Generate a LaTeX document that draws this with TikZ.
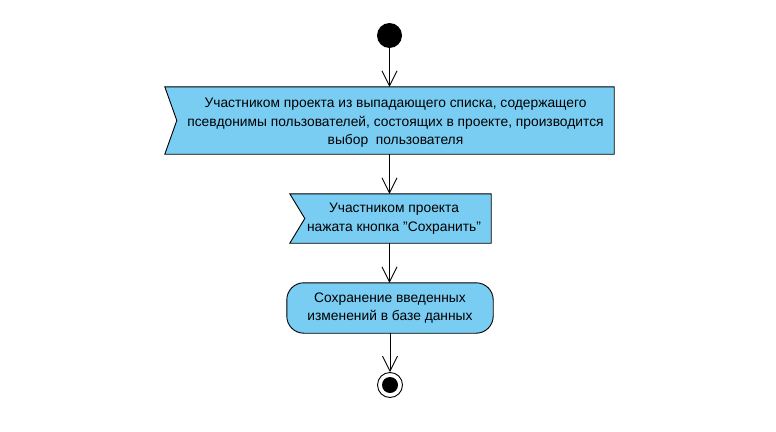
\documentclass[tikz,border=0pt]{standalone}
\usepackage{fontspec}
\setmainfont{Liberation Sans}
\usetikzlibrary{arrows.meta,backgrounds}
\definecolor{actfill}{HTML}{79CDF3}
\tikzset{
  x=1pt, y=-1pt,
  txt/.style={inner sep=0pt, font=\fontsize{13.8}{18.5}\selectfont, align=center, text=black},
  boxshape/.style={draw=black, line width=0.9pt, fill=actfill},
  flow/.style={draw=black, line width=0.9pt, -{Straight Barb[length=15pt,width=15pt,line width=0.9pt]}},
}
\begin{document}
\begin{tikzpicture}
\useasboundingbox (0,0) rectangle (776,431);
% start
\node[circle, fill=black, minimum size=25pt, inner sep=0pt] (start) at (389.5,35.5) {};
% box 1
\node[txt] (t1) at (395.5,123) {Участником проекта из выпадающего списка, содержащего\\псевдонимы пользователей, состоящих в проекте, производится\\выбор\ \ пользователя};
\node[inner sep=0pt, minimum width=449pt, minimum height=67pt] (b1) at (389.5,120.5) {};
% box 2
\node[txt] (t2) at (394,218.5) {Участником проекта\\нажата кнопка "Сохранить"};
\node[inner sep=0pt, minimum width=201pt, minimum height=49pt] (b2) at (390.5,218.5) {};
% box 3
\node[txt] (t3) at (390,308) {Сохранение введенных\\изменений в базе данных};
\node[inner sep=0pt, minimum width=206pt, minimum height=50pt] (b3) at (390,308) {};
% end
\node[circle, draw=black, line width=0.9pt, fill=white, minimum size=25pt, inner sep=0pt] (end) at (390,385) {};
\node[circle, fill=black, minimum size=16pt, inner sep=0pt] (endin) at (end.center) {};
\begin{scope}[on background layer]
\draw[boxshape] (b1.north west) -- (b1.north east) -- (b1.south east) -- (b1.south west) -- ([xshift=12pt]b1.west) -- cycle;
\draw[boxshape] (b2.north west) -- (b2.north east) -- (b2.south east) -- (b2.south west) -- ([xshift=15pt]b2.west) -- cycle;
\draw[boxshape, rounded corners=17pt] (b3.north west) rectangle (b3.south east);
\end{scope}
\draw[flow] (start.south) -- (start.south |- b1.north);
\draw[flow] (start.south |- b1.south) -- (start.south |- b2.north);
\draw[flow] (start.south |- b2.south) -- (start.south |- b3.north);
\draw[flow] (b3.south) -- (end.north);
\end{tikzpicture}
\end{document}
